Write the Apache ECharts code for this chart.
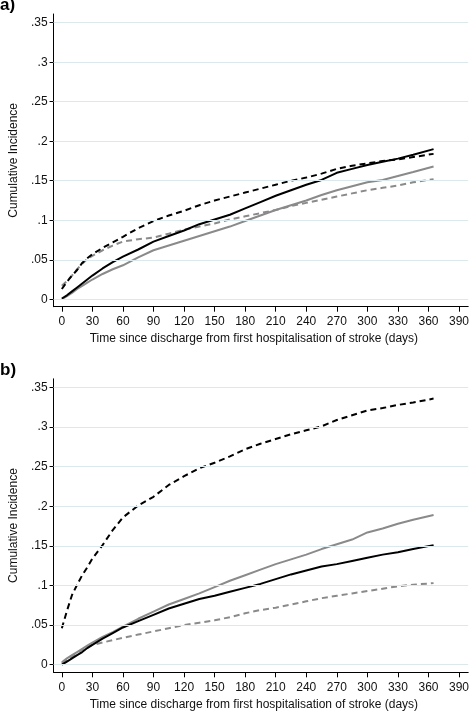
<!DOCTYPE html>
<html>
<head>
<meta charset="utf-8">
<script src="https://cdn.jsdelivr.net/npm/echarts@6/dist/echarts.min.js"></script>
<style>
html,body{margin:0;padding:0;background:#fff;}
#c{width:472px;height:712px;}
</style>
</head>
<body>
<div id="c"></div>
<script>
// Days at which values were read
var days = [0,5,10,15,20,25,30,40,50,60,75,90,105,120,135,150,165,180,195,210,225,240,255,270,285,300,315,330,345,365];

// Panel a)
var aBlackSolid = [0.001,0.005,0.010,0.015,0.020,0.025,0.030,0.039,0.047,0.054,0.063,0.073,0.080,0.087,0.095,0.101,0.107,0.115,0.123,0.131,0.138,0.145,0.151,0.160,0.165,0.170,0.174,0.178,0.183,0.190];
var aBlackDash  = [0.013,0.022,0.030,0.037,0.046,0.052,0.057,0.065,0.072,0.079,0.090,0.099,0.106,0.112,0.119,0.125,0.130,0.135,0.140,0.145,0.150,0.154,0.159,0.165,0.169,0.172,0.175,0.177,0.180,0.184];
var aGreySolid  = [0.000,0.004,0.008,0.013,0.017,0.021,0.025,0.032,0.038,0.043,0.053,0.062,0.068,0.074,0.080,0.086,0.092,0.099,0.106,0.113,0.119,0.125,0.132,0.138,0.143,0.148,0.151,0.156,0.161,0.168];
var aGreyDash   = [0.017,0.023,0.030,0.038,0.045,0.051,0.055,0.062,0.068,0.073,0.076,0.078,0.083,0.088,0.092,0.096,0.101,0.105,0.109,0.113,0.118,0.122,0.126,0.130,0.134,0.138,0.141,0.144,0.148,0.152];

// Panel b)
var bBlackSolid = [0.000,0.004,0.008,0.012,0.016,0.021,0.025,0.033,0.040,0.047,0.055,0.063,0.071,0.077,0.083,0.087,0.092,0.097,0.102,0.108,0.114,0.119,0.124,0.127,0.131,0.135,0.139,0.142,0.146,0.151];
var bBlackDash  = [0.046,0.068,0.088,0.101,0.113,0.123,0.134,0.151,0.170,0.186,0.201,0.212,0.227,0.238,0.248,0.255,0.263,0.272,0.279,0.285,0.291,0.296,0.301,0.309,0.315,0.321,0.324,0.328,0.331,0.336];
var bGreySolid  = [0.003,0.008,0.012,0.016,0.020,0.024,0.028,0.035,0.041,0.048,0.058,0.067,0.076,0.083,0.090,0.098,0.106,0.113,0.120,0.127,0.133,0.139,0.146,0.152,0.158,0.167,0.172,0.178,0.183,0.189];
var bGreyDash   = [0.002,0.006,0.010,0.015,0.019,0.022,0.025,0.028,0.031,0.034,0.038,0.042,0.046,0.050,0.053,0.056,0.060,0.065,0.069,0.072,0.076,0.080,0.084,0.087,0.090,0.093,0.096,0.099,0.101,0.103];

// Tick labels
var xTicks = [0,30,60,90,120,150,180,210,240,270,300,330,360,390];
var yTicks = [0,0.05,0.1,0.15,0.2,0.25,0.3,0.35];
var panelTitles = ['a)','b)'];
var xTitle = 'Time since discharge from first hospitalisation of stroke (days)';
var yTitle = 'Cumulative Incidence';

function pairs(v){ return days.map(function(d,i){ return [d, v[i]]; }); }
function fmtY(v){
  if (Math.abs(v) < 1e-9) return '0';
  var s = (Math.round(v*100)/100).toString();
  return s.replace(/^0/, '');
}

var FONT = 'Liberation Sans, Arial, Helvetica, sans-serif';
var txtColor = '#111';
var gridColor = '#dce9ec';

function xAxisFor(idx){
  return {
    type:'value', gridIndex: idx, min:-8.1, max:399,
    name: xTitle, nameLocation:'middle', nameGap: 26,
    nameTextStyle:{fontFamily:FONT, fontSize:12, color:txtColor, padding:[0,14,0,0]},
    axisLine:{show:true, onZero:false, lineStyle:{color:'#000', width:1}},
    axisTick:{show:true, length:5, customValues:xTicks, lineStyle:{color:'#000'}},
    axisLabel:{show:true, customValues:xTicks, margin:9, fontFamily:FONT, fontSize:12, color:txtColor},
    splitLine:{show:false}
  };
}
function yAxisFor(idx, min){
  return {
    type:'value', gridIndex: idx, min:min, max:0.361,
    name: yTitle, nameLocation:'middle', nameGap: 30,
    nameTextStyle:{fontFamily:FONT, fontSize:12, color:txtColor},
    axisLine:{show:true, onZero:false, lineStyle:{color:'#000', width:1}},
    axisTick:{show:true, length:4, customValues:yTicks, lineStyle:{color:'#000'}},
    axisLabel:{show:true, customValues:yTicks, margin:6, fontFamily:FONT, fontSize:12, color:txtColor, formatter:fmtY},
    splitLine:{show:false}
  };
}

function line(name, data, xi, color, dashed){
  return {
    type:'line', name:name, xAxisIndex:xi, yAxisIndex:xi, data:pairs(data),
    showSymbol:false, symbol:'none', smooth:false, animation:false,
    lineStyle:{color:color, width: 2, type: dashed ? [6,4] : 'solid'},
    z: dashed ? 3 : 4
  };
}
// horizontal reference lines at the y tick values, drawn as markLines on the grey dashed series
function withGrid(s){
  s.markLine = {silent:true, animation:false, symbol:['none','none'], label:{show:false},
    lineStyle:{color:gridColor, width:1, type:'solid', opacity:1},
    emphasis:{disabled:true},
    data: yTicks.map(function(v){ return {yAxis:v}; })};
  s.z = 2;
  return s;
}

var chart = echarts.init(document.getElementById('c'), null, {renderer:'canvas'});
chart.setOption({
  backgroundColor:'#fff',
  animation:false,
  title:[
    {text:panelTitles[0], left:0, top:-3, padding:0, textStyle:{fontFamily:FONT, fontSize:17, fontWeight:'bold', color:'#000'}},
    {text:panelTitles[1], left:0, top:362, padding:0, textStyle:{fontFamily:FONT, fontSize:17, fontWeight:'bold', color:'#000'}}
  ],
  grid:[
    {left:52, top:14, width:418, height:292.7, containLabel:false},
    {left:52, top:378.8, width:418, height:293.5, containLabel:false}
  ],
  xAxis:[xAxisFor(0), xAxisFor(1)],
  yAxis:[yAxisFor(0,-0.0094), yAxisFor(1,-0.0096)],
  series:[
    withGrid(line('a grey dash', aGreyDash, 0, '#8a8a8a', true)),
    line('a grey solid', aGreySolid, 0, '#8a8a8a', false),
    line('a black dash', aBlackDash, 0, '#000', true),
    line('a black solid', aBlackSolid, 0, '#000', false),
    withGrid(line('b grey dash', bGreyDash, 1, '#8a8a8a', true)),
    line('b grey solid', bGreySolid, 1, '#8a8a8a', false),
    line('b black dash', bBlackDash, 1, '#000', true),
    line('b black solid', bBlackSolid, 1, '#000', false)
  ]
});
</script>
</body>
</html>
